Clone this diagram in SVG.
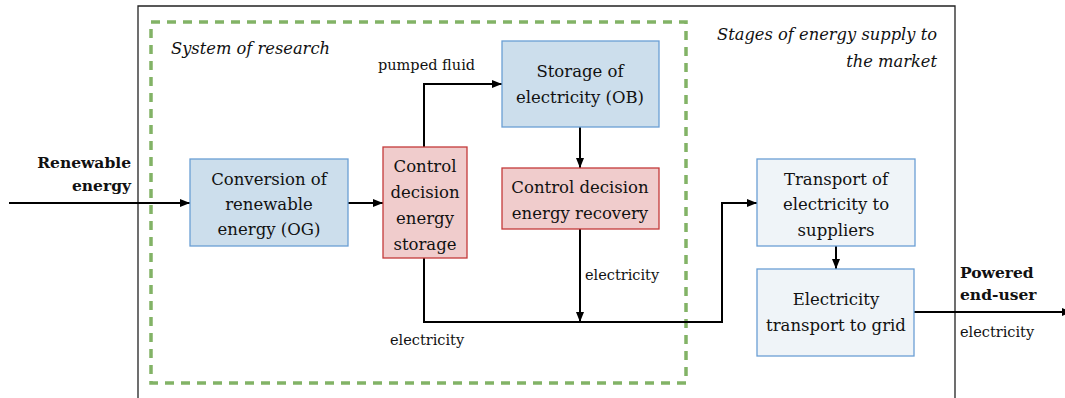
<svg xmlns="http://www.w3.org/2000/svg" width="1065" height="398" viewBox="0 0 1065 398">
<defs>
<marker id="ah" markerWidth="10" markerHeight="8" refX="10" refY="4" orient="auto" markerUnits="userSpaceOnUse">
<path d="M0,0 L10,4 L0,8 Z" fill="#000"/>
</marker>
<style>
.blue{fill:#ccdeec;stroke:#6a9fd4;stroke-width:1.3}
.light{fill:#eff4f8;stroke:#6a9fd4;stroke-width:1.3}
.red{fill:#f0cccc;stroke:#c43a3a;stroke-width:1.3}
text{fill:#111;font-family:"DejaVu Serif","Liberation Serif",serif}
.nt{font-size:16.5px;text-anchor:middle}
.lb{font-size:14.5px}
.bd{font-size:15.5px;font-weight:bold}
.it{font-size:16.3px;font-style:italic}
.c{fill:none;stroke:#000;stroke-width:2}
</style>
</defs>
<rect width="1065" height="398" fill="#fff"/>
<g id="frames">
<path d="M138,400 L138,6 L955,6 L955,400" fill="none" stroke="#222" stroke-width="1.3"/>
<rect x="151" y="22" width="535" height="361" fill="none" stroke="#82b366" stroke-width="3.5" stroke-dasharray="9,7"/>
<text class="it" x="171" y="54">System of research</text>
<text class="it" x="937" y="40" text-anchor="end">Stages of energy supply to</text>
<text class="it" x="937" y="67" text-anchor="end">the market</text>
</g>
<g id="connectors">
<path class="c" d="M9,203 L190,203" marker-end="url(#ah)"/>
<path class="c" d="M348,203 L383,203" marker-end="url(#ah)"/>
<path class="c" d="M424,147 L424,84 L502,84" marker-end="url(#ah)"/>
<path class="c" d="M580,127 L580,168" marker-end="url(#ah)"/>
<path class="c" d="M580,229 L580,322" marker-end="url(#ah)"/>
<path class="c" d="M424,258 L424,322 L722,322 L722,203 L757,203" marker-end="url(#ah)"/>
<path class="c" d="M836,246 L836,269" marker-end="url(#ah)"/>
<path class="c" d="M914,312 L1072,312" marker-end="url(#ah)"/>
<text class="lb" x="378" y="70">pumped fluid</text>
<text class="lb" x="585" y="280">electricity</text>
<text class="lb" x="390" y="345">electricity</text>
<text class="lb" x="960" y="337">electricity</text>
<text class="bd" x="131" y="168" text-anchor="end">Renewable</text>
<text class="bd" x="131" y="191" text-anchor="end">energy</text>
<text class="bd" x="960" y="278">Powered</text>
<text class="bd" x="960" y="300">end-user</text>
</g>
<g id="conversion">
<rect class="blue" x="190" y="159" width="158" height="87"/>
<text class="nt" x="269" y="185">Conversion of</text>
<text class="nt" x="269" y="210">renewable</text>
<text class="nt" x="269" y="235">energy (OG)</text>
</g>
<g id="control-storage">
<rect class="red" x="383" y="147" width="84" height="111"/>
<text class="nt" x="425" y="172">Control</text>
<text class="nt" x="425" y="198">decision</text>
<text class="nt" x="425" y="224">energy</text>
<text class="nt" x="425" y="250">storage</text>
</g>
<g id="storage">
<rect class="blue" x="502" y="41" width="157" height="86"/>
<text class="nt" x="580" y="77">Storage of</text>
<text class="nt" x="580" y="103">electricity (OB)</text>
</g>
<g id="control-recovery">
<rect class="red" x="502" y="168" width="157" height="61"/>
<text class="nt" x="580" y="193">Control decision</text>
<text class="nt" x="580" y="219">energy recovery</text>
</g>
<g id="transport">
<rect class="light" x="757" y="159" width="158" height="87"/>
<text class="nt" x="836" y="185">Transport of</text>
<text class="nt" x="836" y="210">electricity to</text>
<text class="nt" x="836" y="236">suppliers</text>
</g>
<g id="grid">
<rect class="light" x="757" y="269" width="157" height="87"/>
<text class="nt" x="836" y="305">Electricity</text>
<text class="nt" x="836" y="331">transport to grid</text>
</g>
</svg>
